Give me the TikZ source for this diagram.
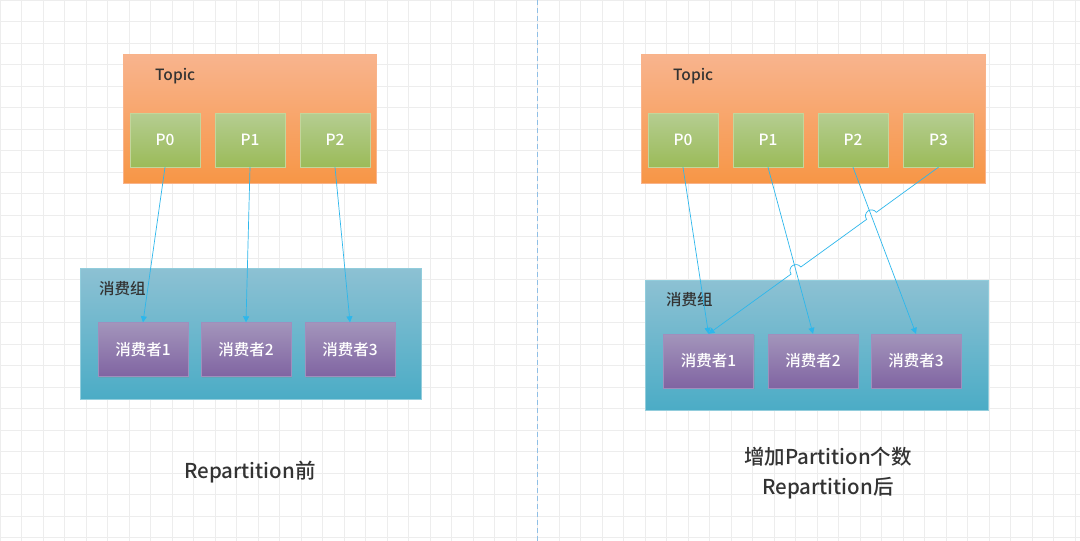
\documentclass[tikz,border=0pt]{standalone}
\usepackage{fontspec}
\setmainfont{Noto Sans CJK SC}[UprightFont={* Medium}]
\usetikzlibrary{calc,shadows,arrows.meta}

\definecolor{topicTop}{HTML}{F8B48E}
\definecolor{topicBot}{HTML}{F79646}
\definecolor{topicEdge}{HTML}{F9B38A}
\definecolor{partTop}{HTML}{B5CD91}
\definecolor{partBot}{HTML}{9BBB59}
\definecolor{partEdge}{HTML}{C3D69B}
\definecolor{groupTop}{HTML}{8DC1D3}
\definecolor{groupBot}{HTML}{4BACC6}
\definecolor{groupEdge}{HTML}{92CDDC}
\definecolor{consTop}{HTML}{A395BB}
\definecolor{consBot}{HTML}{8064A2}
\definecolor{consEdge}{HTML}{9F8FBD}
\definecolor{linkBlue}{HTML}{2DB7EC}
\definecolor{gridGray}{HTML}{EDEDED}
\definecolor{splitBlue}{HTML}{8FBFE6}
\definecolor{labelGray}{HTML}{333333}

\begin{document}
\begin{tikzpicture}[x=1pt,y=-1pt]
	\tikzstyle{TopicBox}=[draw=topicEdge, top color=topicTop, bottom color=topicBot, inner sep=0pt, drop shadow={shadow xshift=1.2pt,shadow yshift=-1.2pt,opacity=0.2}]
	\tikzstyle{PartBox}=[draw=partEdge, top color=partTop, bottom color=partBot, minimum width=70pt, minimum height=54pt, inner sep=0pt, text=white, font=\fontsize{15.5}{18}\selectfont, drop shadow={shadow xshift=1.2pt,shadow yshift=-1.2pt,opacity=0.2}]
	\tikzstyle{GroupBox}=[draw=groupEdge, top color=groupTop, bottom color=groupBot, inner sep=0pt, drop shadow={shadow xshift=1.2pt,shadow yshift=-1.2pt,opacity=0.2}]
	\tikzstyle{ConsBox}=[draw=consEdge, top color=consTop, bottom color=consBot, minimum width=90pt, minimum height=54pt, inner sep=0pt, text=white, font=\fontsize{15.5}{18}\selectfont, drop shadow={shadow xshift=1.2pt,shadow yshift=-1.2pt,opacity=0.2}]
	\tikzstyle{BoxLabel}=[anchor=west, inner sep=0pt, text=labelGray, font=\fontsize{15.5}{18}\selectfont]
	\tikzstyle{Caption}=[inner sep=0pt, text=labelGray, font=\fontsize{20.5}{24}\selectfont]
	\tikzstyle{Link}=[draw=linkBlue, line width=0.7pt, -{Triangle[length=6pt,width=6pt]}]

	% canvas
	\useasboundingbox (0,0) rectangle (1080,541);
	\fill[white] (0,0) rectangle (1080,541);
	\foreach \gx in {0,21.5,...,1080} \draw[gridGray, line width=0.8pt] (\gx,0) -- (\gx,541);
	\foreach \gy in {0,21.5,...,541} \draw[gridGray, line width=0.8pt] (0,\gy) -- (1080,\gy);
	\draw[splitBlue, line width=1pt, dash pattern=on 5pt off 3pt] (537,0) -- (537,541);

	% before repartition
	\node[TopicBox, minimum width=253pt, minimum height=129pt] (lTopic) at (249.5,118.5) {};
	\node[BoxLabel] (lTopicLbl) at (155,76) {Topic};
	\node[PartBox] (lP0) at (165,140) {P0};
	\node[PartBox] (lP1) at (250,140) {P1};
	\node[PartBox] (lP2) at (335,140) {P2};
	\node[GroupBox, minimum width=341pt, minimum height=131pt] (lGroup) at (250.5,333.5) {};
	\node[BoxLabel] (lGroupLbl) at (99,289) {消费组};
	\node[ConsBox] (lC1) at (143,349.5) {消费者1};
	\node[ConsBox] (lC2) at (246,349.5) {消费者2};
	\node[ConsBox] (lC3) at (350,349.5) {消费者3};
	\draw[Link] (lP0.south) -- (lC1.north);
	\draw[Link] (lP1.south) -- (lC2.north);
	\draw[Link] (lP2.south) -- (lC3.north);
	\node[Caption] (lCap) at (250,472) {Repartition前};

	% after repartition
	\node[TopicBox, minimum width=344pt, minimum height=129pt] (rTopic) at (813,118.5) {};
	\node[BoxLabel] (rTopicLbl) at (673,76) {Topic};
	\node[PartBox] (rP0) at (683,140) {P0};
	\node[PartBox] (rP1) at (768,140) {P1};
	\node[PartBox] (rP2) at (853,140) {P2};
	\node[PartBox] (rP3) at (938.5,140) {P3};
	\node[GroupBox, minimum width=343pt, minimum height=130pt] (rGroup) at (816.5,345) {};
	\node[BoxLabel] (rGroupLbl) at (666,300) {消费组};
	\node[ConsBox] (rC1) at (708.5,361) {消费者1};
	\node[ConsBox] (rC2) at (813,361) {消费者2};
	\node[ConsBox] (rC3) at (916,361) {消费者3};
	\draw[Link] (rP0.south) -- (rC1.north);
	\draw[Link] (rP1.south) -- (rC2.north);
	\draw[Link] (rP2.south) -- (rC3.north);
	% P3 jumps over the P2 and P1 links
	\coordinate (hopA) at (intersection of rP3.south--rC1.north and rP2.south--rC3.north);
	\coordinate (hopB) at (intersection of rP3.south--rC1.north and rP1.south--rC2.north);
	\coordinate (hopA1) at ($(hopA)!6pt!(rP3.south)$);
	\coordinate (hopB1) at ($(hopB)!6pt!(rP3.south)$);
	\draw[Link] (rP3.south) -- (hopA1) arc[start angle=-36, delta angle=-180, radius=6]
		-- (hopB1) arc[start angle=-36, delta angle=-180, radius=6] -- (rC1.north);
	\node[Caption] (rCap1) at (828,457) {增加Partition个数};
	\node[Caption] (rCap2) at (828,488) {Repartition后};
\end{tikzpicture}
\end{document}
